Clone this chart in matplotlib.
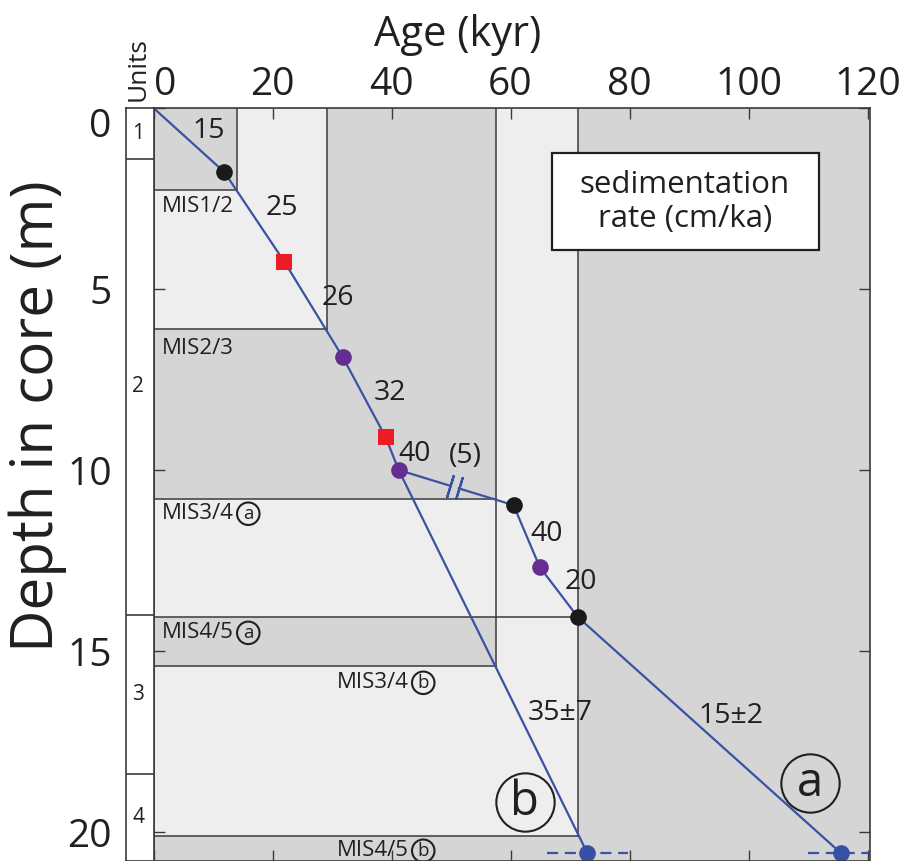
import matplotlib
matplotlib.use("Agg")
import matplotlib.pyplot as plt
import numpy as np
from matplotlib.patches import Rectangle

plt.rcParams['font.family'] = ['Open Sans', 'DejaVu Sans']
TXT = '#231f20'

# ---------------- data ----------------
x_ticks = [0, 20, 40, 60, 80, 100, 120]
y_ticks = [0, 5, 10, 15, 20]

# MIS boundary ages (kyr)
mis_age = {'1/2': 14.0, '2/3': 29.2, '3/4': 57.6, '4/5': 71.3}
# MIS boundary depths (m)
mis_depth = {'1/2': 2.27, '2/3': 6.1, '3/4a': 10.8, '4/5a': 14.06,
             '3/4b': 15.4, '4/5b': 20.1}

# lithological units
unit_names = ['1', '2', '3', '4']
unit_bounds = [0.0, 1.41, 14.0, 18.4, 20.8]

# age-depth tie points
black_age = [11.9, 60.5, 71.3]
black_depth = [1.77, 10.97, 14.06]
red_age = [22.0, 39.0]
red_depth = [4.25, 9.09]
purple_age = [31.8, 41.2, 64.9]
purple_depth = [6.88, 10.0, 12.68]
blue_age = [72.9, 115.5]
blue_depth = [20.58, 20.58]

# age model lines
upper_age = [0, 11.9, 22.0, 31.8, 39.0, 41.2]
upper_depth = [0, 1.77, 4.25, 6.88, 9.09, 10.0]
hiatus_age = [41.2, 60.5]
hiatus_depth = [10.0, 10.97]
break_age = [49.8, 51.3]
model_a_age = [60.5, 64.9, 71.3, 115.5]
model_a_depth = [10.97, 12.68, 14.06, 20.58]
model_b_age = [41.2, 72.9]
model_b_depth = [10.0, 20.58]
dash_ranges = [(66.2, 79.7), (110.0, 121.0)]

# sedimentation rate labels
rate_text = ['15', '25', '26', '32', '40', '(5)', '40', '20', '35±7', '15±2']
rate_age = [9.2, 21.6, 30.9, 39.7, 43.8, 52.4, 66.1, 71.8, 68.3, 97.0]
rate_depth = [0.64, 2.76, 5.25, 7.87, 9.55, 9.6, 11.77, 13.1, 16.72, 16.8]

# MIS labels
mis_label_text = ['MIS1/2', 'MIS2/3', 'MIS3/4', 'MIS4/5', 'MIS3/4', 'MIS4/5']
mis_label_circ = ['', '', 'a', 'a', 'b', 'b']
mis_label_age = [1.4, 1.4, 1.4, 1.4, 30.8, 30.8]
mis_label_depth = [2.73, 6.63, 11.19, 14.48, 15.86, 20.5]

# big model labels
model_names = ['a', 'b']
model_lab_age = [110.3, 62.4]
model_lab_depth = [18.65, 19.17]

XMAX, YMAX = 120.4, 20.8
LIGHT, DARK = '#eeeeee', '#d5d5d5'
EDGE = '#3a3a3a'
BLUE = '#3a52a3'

# ---------------- figure ----------------
fig = plt.figure(figsize=(9.01, 8.61), dpi=100)
ax = fig.add_axes([153.5 / 901, 0, (870 - 153.5) / 901, (861 - 108) / 861])
ax.set_xlim(0, XMAX)
ax.set_ylim(YMAX, 0)
ax.set_facecolor(LIGHT)

a12, a23, a34, a45 = mis_age['1/2'], mis_age['2/3'], mis_age['3/4'], mis_age['4/5']
d12, d23 = mis_depth['1/2'], mis_depth['2/3']
d34a, d45a = mis_depth['3/4a'], mis_depth['4/5a']
d34b, d45b = mis_depth['3/4b'], mis_depth['4/5b']

dark_rects = [
    (0, 0, a12, d12),
    (a23, 0, a34 - a23, d34a),
    (0, d23, a23, d34a - d23),
    (0, d45a, a34, d34b - d45a),
    (a45, 0, XMAX - a45, YMAX),
    (0, d45b, a45, YMAX - d45b),
]
for (x0, y0, w, h) in dark_rects:
    ax.add_patch(Rectangle((x0, y0), w, h, fc=DARK, ec='none', zorder=0.5))

blw = 1.1
# horizontal boundary lines
for (y, x1) in [(d12, a12), (d23, a23), (d34a, a34), (d45a, a45), (d34b, a34), (d45b, a45)]:
    ax.plot([0, x1], [y, y], color=EDGE, lw=blw, zorder=1)
# vertical boundary lines
for (x, y1) in [(a12, d12), (a23, d23), (a34, d34b), (a45, d45b)]:
    ax.plot([x, x], [0, y1], color=EDGE, lw=blw, zorder=1)

# legend box
ax.add_patch(Rectangle((66.9, 1.24), 44.9, 2.68, fc='white', ec='#231f20', lw=1.6, zorder=3))
ax.text(89.3, 2.6, 'sedimentation\nrate (cm/ka)', ha='center', va='center',
        fontsize=22.5, color=TXT, linespacing=1.15, zorder=4)

# model lines
lw = 1.6
ax.plot(upper_age, upper_depth, color=BLUE, lw=lw, zorder=2)
ax.plot(model_a_age, model_a_depth, color=BLUE, lw=lw, zorder=2)
ax.plot(model_b_age, model_b_depth, color=BLUE, lw=lw, zorder=2)
bd = np.interp(break_age, hiatus_age, hiatus_depth)
ax.plot([hiatus_age[0], break_age[0]], [hiatus_depth[0], bd[0]], color=BLUE, lw=lw, zorder=2)
ax.plot([break_age[1], hiatus_age[1]], [bd[1], hiatus_depth[1]], color=BLUE, lw=lw, zorder=2)
ax.plot(break_age, bd, ls='none', marker=(2, 2, -17), ms=17, mew=lw, mec=BLUE, zorder=2)
for (x0, x1) in dash_ranges:
    ax.plot([x0, x1], [blue_depth[0]] * 2, color=BLUE, lw=lw, ls=(0, (5, 3)), zorder=2)

# tie points
ax.plot(black_age, black_depth, 'o', color='#1a1a1a', ms=12, mew=0, zorder=5)
ax.plot(red_age, red_depth, 's', color='#ed1c24', ms=11, mew=0, zorder=5)
ax.plot(purple_age, purple_depth, 'o', color='#662d91', ms=12, mew=0, zorder=5)
ax.plot(blue_age, blue_depth, 'o', color='#3550a5', ms=12, mew=0, zorder=5, clip_on=False)

# sedimentation rate labels
for t, x, y in zip(rate_text, rate_age, rate_depth):
    ax.text(x, y, t, ha='center', va='center', fontsize=20.5, color=TXT, zorder=4)

# MIS labels
for t, c, x, y in zip(mis_label_text, mis_label_circ, mis_label_age, mis_label_depth):
    tt = ax.text(x, y, t, ha='left', va='center', fontsize=16, color=TXT, zorder=4)
    if c:
        ax.annotate(c, xy=(1, 0.47), xycoords=tt, xytext=(10.5, 0), textcoords='offset points',
                    ha='center', va='center', fontsize=13.5, color=TXT, zorder=4,
                    bbox=dict(boxstyle='circle,pad=0.12', fc='none', ec=TXT, lw=1.5))

# big model labels
for n, x, y in zip(model_names, model_lab_age, model_lab_depth):
    ax.plot([x], [y], 'o', ms=42, mfc='none', mec=TXT, mew=1.5, zorder=4)
    ax.text(x, y, n, ha='center', va='center', fontsize=34, color=TXT, zorder=4)

# axes styling
ax.xaxis.tick_top()
ax.set_xticks(x_ticks)
ax.set_yticks(y_ticks)
ax.set_xticklabels([str(v) for v in x_ticks])
ax.set_yticklabels([str(v) for v in y_ticks])
ax.tick_params(axis='x', which='both', top=True, bottom=True, direction='in', length=8,
               width=1.0, color=EDGE, labelsize=28, pad=3, labelcolor=TXT)
ax.tick_params(axis='y', which='both', left=True, right=True, direction='in', length=8,
               width=1.0, color=EDGE, labelsize=28, pad=30, labelcolor=TXT)
ax.get_xticklabels()[0].set_ha('left')
ax.get_yticklabels()[0].set_va('top')
for s in ax.spines.values():
    s.set_color(EDGE)
    s.set_linewidth(1.2)
    s.set_zorder(6)

# units column
uax = fig.add_axes([126 / 901, 0, 27.5 / 901, (861 - 108) / 861])
uax.set_ylim(YMAX, 0)
uax.set_xlim(0, 1)
uax.set_xticks([])
uax.set_yticks([])
uax.set_facecolor('white')
for s in uax.spines.values():
    s.set_color(EDGE)
    s.set_linewidth(1.2)
for b in unit_bounds[1:-1]:
    uax.axhline(b, color=EDGE, lw=1.2)
for i, n in enumerate(unit_names):
    uax.text(0.45, (unit_bounds[i] + unit_bounds[i + 1]) / 2, n, ha='center', va='center',
             fontsize=15, color=TXT)

fig.text(138 / 901, 1 - 101 / 861, 'Units', rotation=90, ha='center', va='bottom',
         fontsize=19, color=TXT)
fig.text(458 / 901, 1 - 46 / 861, 'Age (kyr)', ha='center', va='baseline',
         fontsize=30, color=TXT)
fig.text(38 / 901, 1 - 416 / 861, 'Depth in core (m)', rotation=90, ha='center', va='center',
         fontsize=42, color=TXT)

fig.savefig('out.png', dpi=100)
